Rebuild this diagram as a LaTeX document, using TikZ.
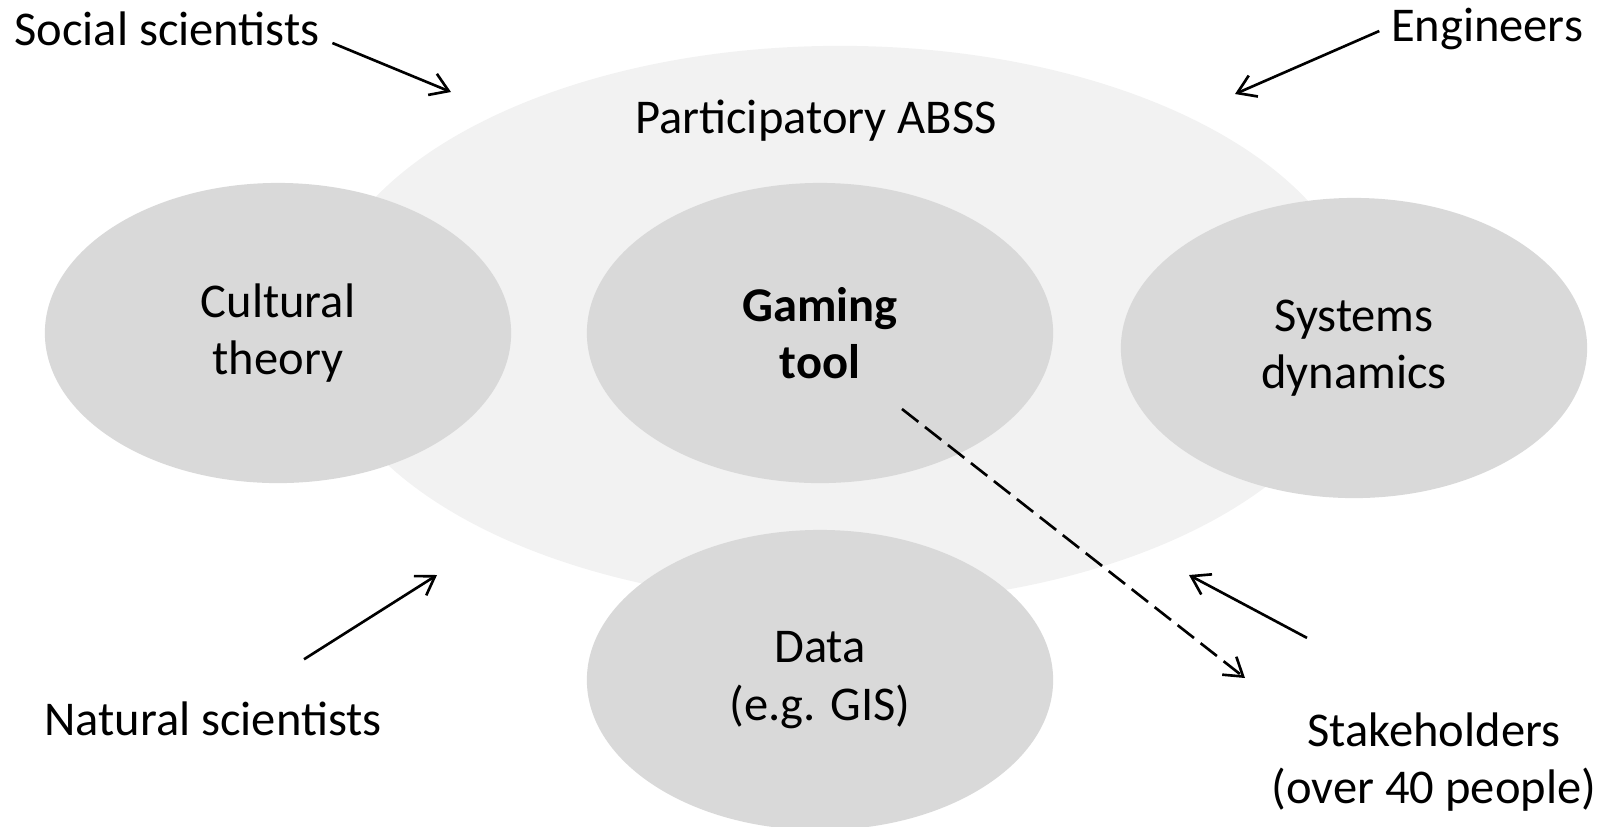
\documentclass[tikz,border=0pt]{standalone}
\usepackage{fontspec}
\setmainfont{Carlito}
\usetikzlibrary{shapes.geometric,arrows.meta}
\definecolor{blobgray}{HTML}{D9D9D9}
\definecolor{abssgray}{HTML}{F2F2F2}
\tikzset{
  blob/.style={ellipse, fill=blobgray, minimum width=4.66cm, minimum height=3cm, align=center, inner sep=0pt},
  lbl/.style={align=center, inner sep=0pt},
  arr/.style={-{Straight Barb[length=5pt,width=6.5pt]}, line width=0.75pt},
}
\begin{document}
\begin{tikzpicture}[x=0.01cm, y=-0.01cm, font=\fontsize{13.8}{16.3}\selectfont]
    \useasboundingbox (0,0) rectangle (1603,826);
    \node[ellipse, fill=abssgray, minimum width=10.44cm, minimum height=5.58cm] (abss) at (840,325) {};
    \node[lbl] (abssname) at (816,121) {Participatory ABSS};
    \node[blob] (cult) at (278,333) {Cultural\\theory};
    \node[blob] (game) at (820,333) {\bfseries Gaming\\\bfseries tool};
    \node[blob] (sysdyn) at (1354,348) {Systems\\dynamics};
    \node[blob] (data) at (820,680) {Data\\(e.g. GIS)};
    \node[lbl] (social) at (167,29) {Social scientists};
    \node[lbl] (eng) at (1487,29) {Engineers};
    \node[lbl] (natural) at (213,719) {Natural scientists};
    \node[lbl] (stake) at (1434,762) {Stakeholders\\(over 40 people)};
    \coordinate (socialend) at (451,92);
    \coordinate (engend) at (1235,94);
    \coordinate (naturalend) at (437,575);
    \coordinate (stakeend) at (1189,575);
    \coordinate (gamestart) at (902,409);
    \coordinate (gameend) at (1245,678);
    \draw[arr] (social.east) ++(12,14) -- (socialend);
    \draw[arr] (eng.west) ++(-11,2) -- (engend);
    \draw[arr] (natural.north) ++(91,-42) -- (naturalend);
    \draw[arr] (stake.north) ++(-127,-74) -- (stakeend);
    \draw[arr, dash pattern=on 5.9pt off 2.4pt] (gamestart) -- (gameend);
\end{tikzpicture}
\end{document}
